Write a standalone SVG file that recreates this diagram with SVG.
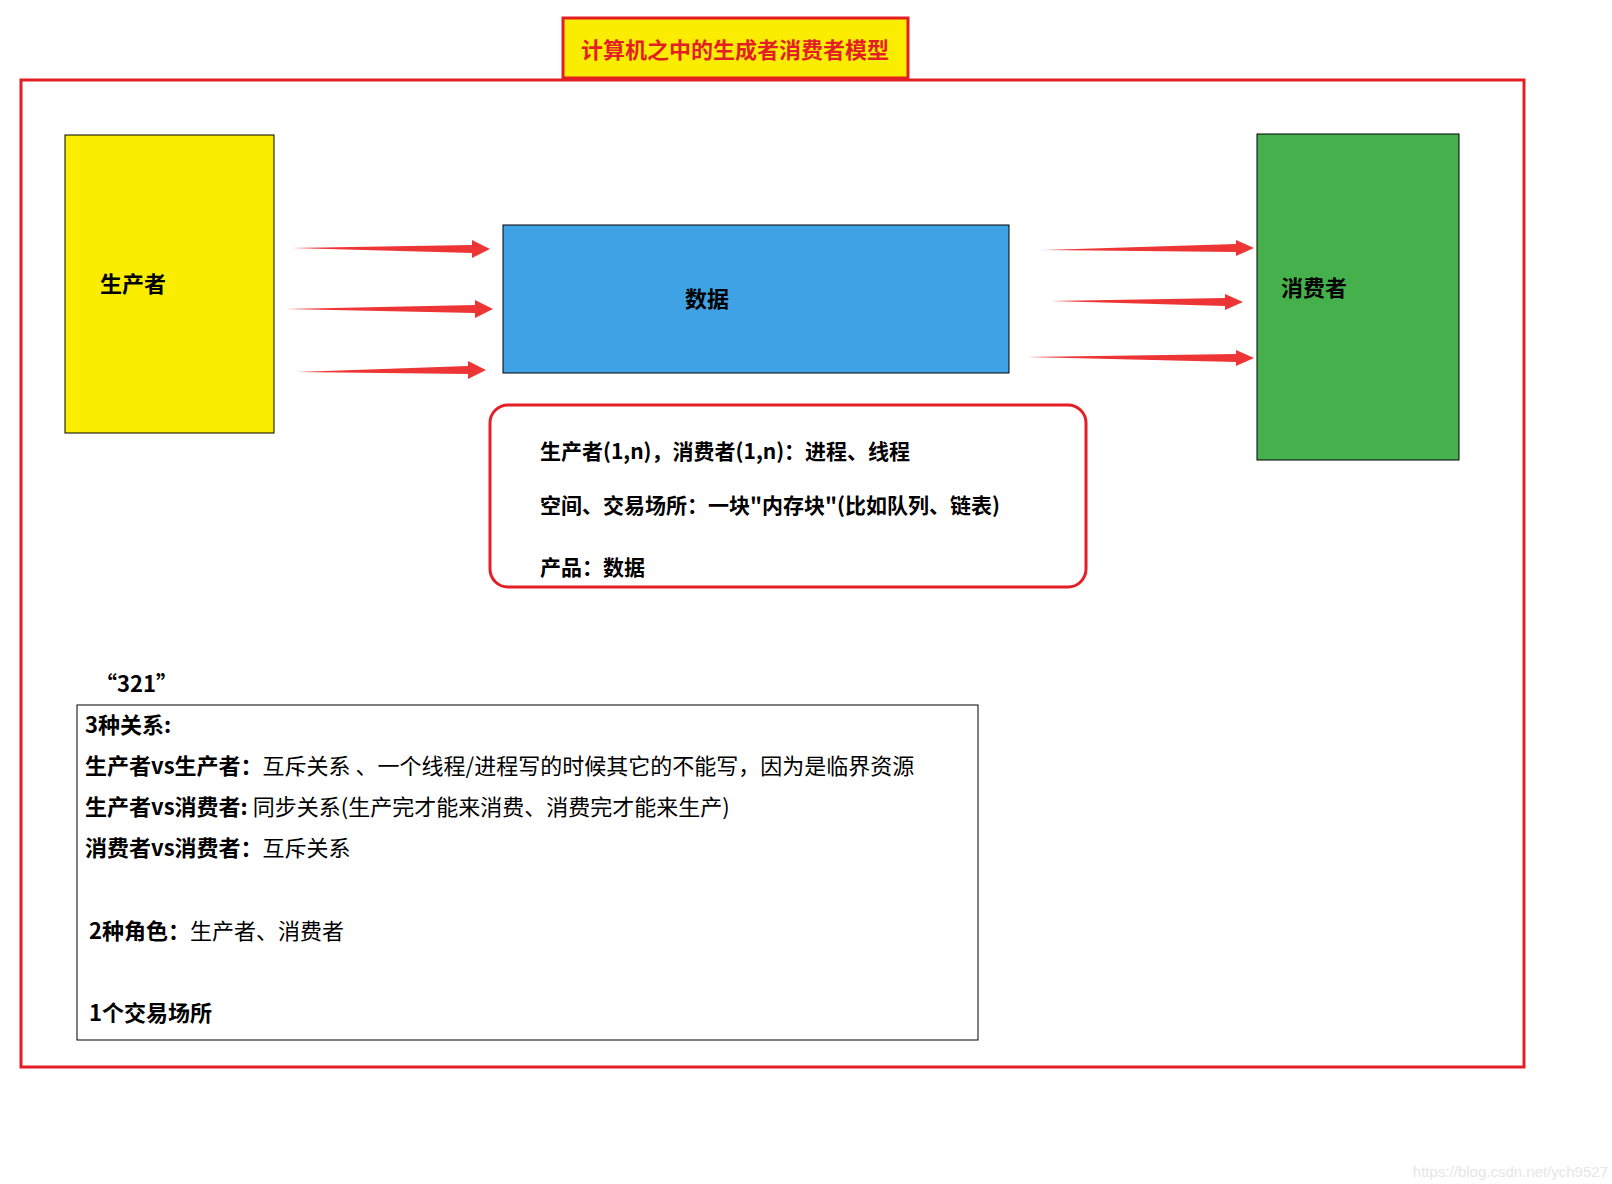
<svg xmlns="http://www.w3.org/2000/svg" width="1612" height="1184" viewBox="0 0 1612 1184">
<style>
text{font-family:"Noto Sans CJK SC","Noto Sans",sans-serif;fill:#000}
.b{font-weight:bold}
.t{font-size:22px}
.arr{fill:#ee3535}
</style>
<rect width="1612" height="1184" fill="#fff"/>
<g id="frame"><rect x="21" y="80" width="1503" height="987" fill="none" stroke="#e31e24" stroke-width="3"/></g>
<g id="title"><rect x="563" y="18" width="345" height="60" fill="#fbed00" stroke="#e31e24" stroke-width="3"/>
<text x="735" y="58" text-anchor="middle" class="b" font-size="22" style="fill:#e31e24">计算机之中的生成者消费者模型</text></g>
<g id="producer"><rect x="65" y="135" width="209" height="298" fill="#fbed00" stroke="#000" stroke-width="1"/>
<text x="100" y="292" class="b t">生产者</text></g>
<g id="data"><rect x="503" y="225" width="506" height="148" fill="#3fa2e5" stroke="#000" stroke-width="1"/>
<text x="685" y="307" class="b t">数据</text></g>
<g id="consumer"><rect x="1257" y="134" width="202" height="326" fill="#45b04c" stroke="#000" stroke-width="1"/>
<text x="1281" y="296" class="b t">消费者</text></g>
<g id="notes"><rect x="490" y="405" width="596" height="182" rx="18" fill="none" stroke="#e31e24" stroke-width="3"/>
<text x="540" y="459" class="b" font-size="21">生产者(1,n)，消费者(1,n)：进程、线程</text>
<text x="540" y="513" class="b" font-size="21">空间、交易场所：一块"内存块"(比如队列、链表)</text>
<text x="540" y="575" class="b" font-size="21">产品：数据</text></g>
<g id="summary">
<text x="95" y="692" class="b t">“321”</text>
<rect x="77" y="705" width="901" height="335" fill="none" stroke="#000" stroke-width="1"/>
<text x="85" y="733" class="t"><tspan class="b">3种关系:</tspan></text>
<text x="85" y="774" class="t"><tspan class="b">生产者vs生产者：</tspan>互斥关系 、一个线程/进程写的时候其它的不能写，因为是临界资源</text>
<text x="85" y="815" class="t"><tspan class="b">生产者vs消费者: </tspan>同步关系(生产完才能来消费、消费完才能来生产)</text>
<text x="85" y="856" class="t"><tspan class="b">消费者vs消费者：</tspan>互斥关系</text>
<text x="89" y="939" class="t"><tspan class="b">2种角色：</tspan>生产者、消费者</text>
<text x="89" y="1021" class="t b">1个交易场所</text>
</g>
<g id="connectors">
<polygon class="arr" points="292,248 472,245 472,240 490,249 472,258 472,253"/>
<polygon class="arr" points="286,309 475,305 475,300 493,309 475,318 475,313"/>
<polygon class="arr" points="297,372 468,366 468,361 486,370 468,379 468,374"/>
<polygon class="arr" points="1044,250 1236,244 1236,240 1254,248 1236,256 1236,252"/>
<polygon class="arr" points="1051,301 1225,298 1225,294 1243,302 1225,310 1225,306"/>
<polygon class="arr" points="1027,357 1236,354 1236,350 1254,358 1236,366 1236,362"/>
</g>
<text x="1608" y="1177" text-anchor="end" font-size="15" style="fill:#e6e6e6;font-family:'Liberation Sans',sans-serif">https://blog.csdn.net/ych9527</text>
</svg>
